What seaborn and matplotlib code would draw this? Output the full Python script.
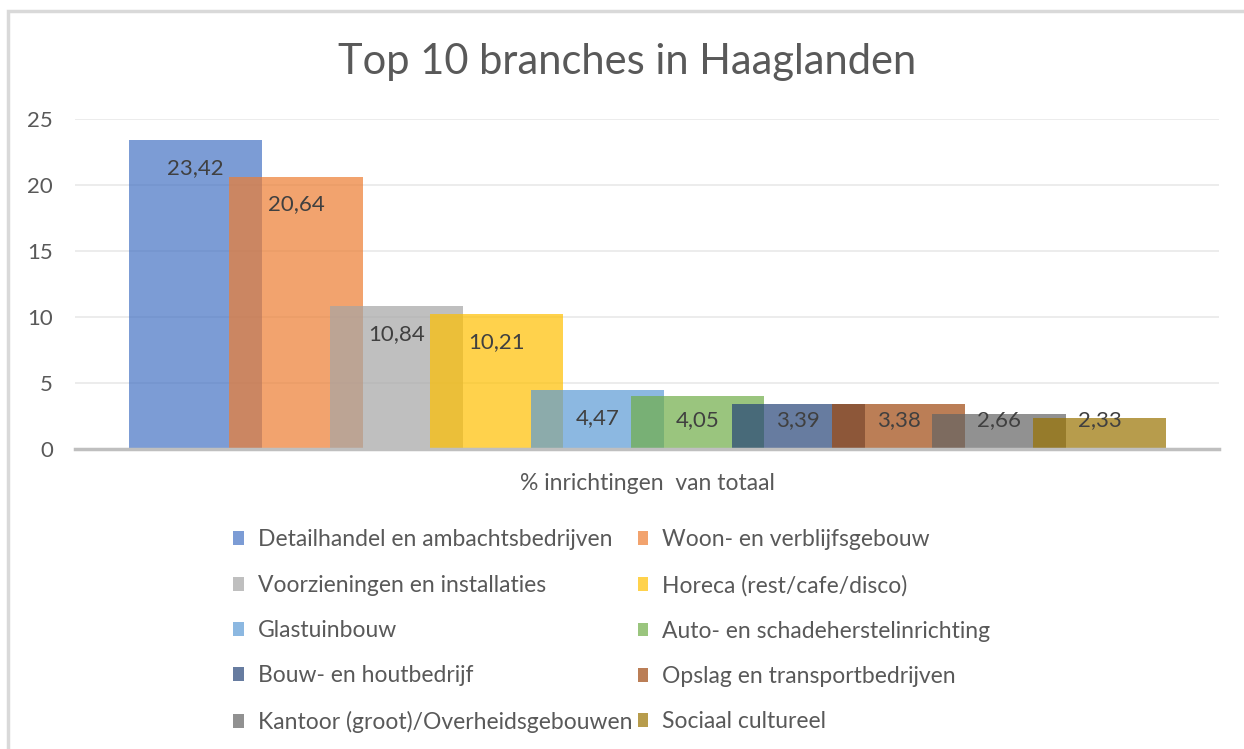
import numpy as np
import pandas as pd
import seaborn as sns
import matplotlib.pyplot as plt
from matplotlib.patches import Rectangle

branches = [
    "Detailhandel en ambachtsbedrijven",
    "Woon- en verblijfsgebouw",
    "Voorzieningen en installaties",
    "Horeca (rest/cafe/disco)",
    "Glastuinbouw",
    "Auto- en schadeherstelinrichting",
    "Bouw- en houtbedrijf",
    "Opslag en transportbedrijven",
    "Kantoor (groot)/Overheidsgebouwen",
    "Sociaal cultureel",
]
percentages = [23.42, 20.64, 10.84, 10.21, 4.47, 4.05, 3.39, 3.38, 2.66, 2.33]
colors = ["#4472C4", "#ED7D31", "#A5A5A5", "#FFC000", "#5B9BD5",
          "#70AD47", "#264478", "#9E480E", "#636363", "#997300"]

df = pd.DataFrame({"branche": branches, "pct": percentages})

sns.set_style("white")
plt.rcParams["font.family"] = ["Lato", "DejaVu Sans"]
txt = "#595959"

fig = plt.figure(figsize=(12.44, 7.49), dpi=100)
ax = fig.add_axes([75 / 1244, 0.4005, 1144 / 1244, 0.4406])

sns.barplot(data=df, x="branche", y="pct", hue="branche", palette=colors,
            width=1.325, alpha=0.7, legend=False, ax=ax, saturation=1,
            linewidth=0)

# data labels inside the bar end (Excel style), kept above the baseline
for i, v in enumerate(percentages):
    ax.text(i, max(v - 2.12, 2.2), f"{v:.2f}".replace(".", ","),
            ha="center", va="center", fontsize=16, color="#404040")

ax.set_xlim(-1.2, 10.19)
ax.set_ylim(0, 25)
ax.set_yticks([0, 5, 10, 15, 20, 25])
ax.tick_params(axis="y", length=0, pad=16, labelsize=16, labelcolor=txt)
ax.set_xticks([4.5], ["% inrichtingen  van totaal"])
ax.tick_params(axis="x", length=0, pad=17, labelsize=16.5, labelcolor=txt)
ax.set_xlabel("")
ax.set_ylabel("")
ax.yaxis.grid(True, color="#EBEBEB", lw=1.3)
ax.set_axisbelow(True)
for s in ["top", "right", "left"]:
    ax.spines[s].set_visible(False)
ax.spines["bottom"].set_color("#BFBFBF")
ax.spines["bottom"].set_linewidth(2.5)

fig.text(627 / 1244, 1 - 62 / 749, "Top 10 branches in Haaglanden",
         ha="center", va="center", fontsize=30, color=txt)

# legend, row-wise order over 2 columns
handles = ax.patches[:10]
order = [0, 2, 4, 6, 8, 1, 3, 5, 7, 9]
leg = fig.legend([handles[i] for i in order], [branches[i] for i in order],
                 ncol=2, loc="upper left", bbox_to_anchor=(222 / 1244, 1 - 518 / 749),
                 frameon=False, fontsize=16.5, labelcolor=txt,
                 handlelength=0.45, handleheight=0.55, handletextpad=0.6,
                 columnspacing=0.25, labelspacing=1.06, borderpad=0)

fig.patches.append(Rectangle((8 / 1244, -0.1), 1.2, 1 - 11 / 749 + 0.1,
                             transform=fig.transFigure, fill=False,
                             edgecolor="#D9D9D9", lw=2.5))

fig.savefig("out.png", dpi=100)
